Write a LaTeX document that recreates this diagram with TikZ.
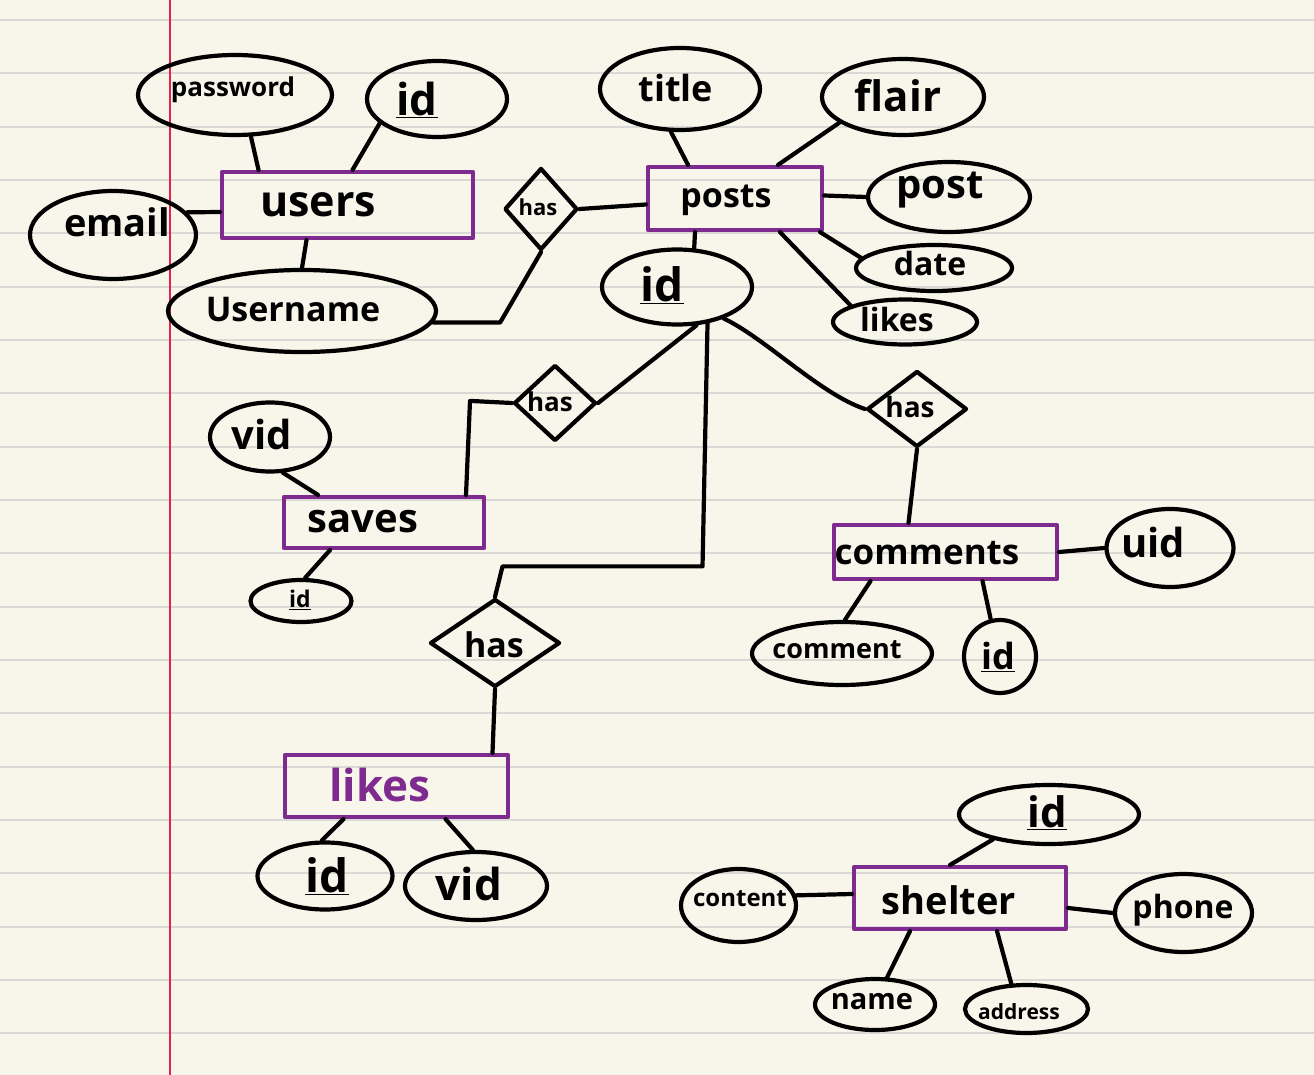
\documentclass[tikz,border=0pt]{standalone}
\usepackage{fontspec}
\setmainfont{Open Sans}
\usetikzlibrary{shapes.geometric}
\definecolor{paper}{HTML}{F8F6EA}
\definecolor{ruleline}{HTML}{D9D9D6}
\definecolor{marginred}{HTML}{E5224B}
\definecolor{ent}{HTML}{7F2A8E}
\newcommand\myfs[1]{\fontsize{#1}{#1}\selectfont\bfseries}
\begin{document}
\begin{tikzpicture}[x=1pt,y=-1pt,
  ink/.style={line width=4.2pt, line cap=round, line join=round, draw=black},
  sz/.style 2 args={minimum width=#1pt, minimum height=#2pt},
  attr/.style={ellipse, ink, inner sep=0pt},
  entity/.style={rectangle, draw=ent, line width=4.2pt, line join=round, inner sep=0pt},
  rel/.style={diamond, ink, inner sep=0pt},
  lbl/.style={inner sep=0pt, text=black},
  elbl/.style={inner sep=0pt, text=ent},
  conn/.style={ink}]
\useasboundingbox (0,0) rectangle (1314,1075);
\fill[paper] (0,0) rectangle (1314,1075);
\foreach \k in {0,...,19} \draw[ruleline, line width=2pt] (0,{20+53.33*\k}) -- (1314,{20+53.33*\k});
\draw[marginred, line width=1.6pt] (170,0) -- (170,1075);

% ---- users ----
\node[attr, sz={194}{80}] (pw) at (235,95) {};
\node[attr, sz={140}{76}] (uid1) at (437,99) {};
\node[entity, sz={251}{66}] (users) at (347.5,205) {};
\node[attr, sz={166}{88}] (email) at (113,235) {};
\node[attr, sz={268}{82}] (uname) at (302,311) {};
\node[rel, sz={73}{82}] (has1) at (541,209) {};

% ---- posts ----
\node[entity, sz={174}{63}] (posts) at (735,198.5) {};
\node[attr, sz={160}{82}] (title) at (680,89) {};
\node[attr, sz={162}{76}] (flair) at (903,97) {};
\node[attr, sz={162}{70}] (post) at (949,197) {};
\node[attr, sz={156}{46}] (date) at (934,268) {};
\node[attr, sz={144}{45}] (likesA) at (905,322) {};
\node[attr, sz={150}{75}] (pid) at (677,287) {};

% ---- saves ----
\node[rel, sz={82}{76}] (has2) at (555,403) {};
\node[attr, sz={120}{69}] (svid) at (270,437) {};
\node[entity, sz={200}{51}] (saves) at (384,522.5) {};
\node[attr, sz={101}{42}] (ssid) at (301,601) {};

% ---- likes ----
\node[rel, sz={130}{88}] (has3) at (495,643) {};
\node[entity, sz={223}{62}] (likes) at (396.5,786) {};
\node[attr, sz={135}{67}] (lid) at (325,876) {};
\node[attr, sz={142}{68}] (lvid) at (476,886) {};

% ---- comments ----
\node[rel, sz={100}{76}] (has4) at (917,409) {};
\node[entity, sz={223}{54}] (comments) at (945.5,552) {};
\node[attr, sz={127}{78}] (cuid) at (1170,548) {};
\node[attr, sz={180}{63}] (cmt) at (842,653.5) {};
\node[attr, sz={72}{73}] (cid) at (1000,656.5) {};

% ---- shelter ----
\node[attr, sz={180}{59}] (shid) at (1049,814.5) {};
\node[entity, sz={212}{62}] (shelter) at (960,898) {};
\node[attr, sz={115}{73}] (content) at (738.5,905.5) {};
\node[attr, sz={137}{78}] (phone) at (1183.5,913) {};
\node[attr, sz={120}{51}] (name) at (875,1004.5) {};
\node[attr, sz={123}{48}] (addr) at (1026.5,1009) {};

% ---- labels ----
\node[lbl, font=\myfs{26}] (pw-t) at (233,90) {password};
\node[lbl, font=\myfs{44}] (uid1-t) at (417,100) {\underline{id}};
\node[lbl, font=\myfs{43}] (users-t) at (318,205) {users};
\node[lbl, font=\myfs{38}] (email-t) at (117,222) {email};
\node[lbl, font=\myfs{34}] (uname-t) at (293,310) {Username};
\node[lbl, font=\myfs{22}] (has1-t) at (538,207) {has};
\node[lbl, font=\myfs{34}] (posts-t) at (726,200) {posts};
\node[lbl, font=\myfs{36}] (title-t) at (676,88) {title};
\node[lbl, font=\myfs{42}] (flair-t) at (898,96) {flair};
\node[lbl, font=\myfs{40}] (post-t) at (940,190) {post};
\node[lbl, font=\myfs{32}] (date-t) at (930,264) {date};
\node[lbl, font=\myfs{32}] (likesA-t) at (897,319) {likes};
\node[lbl, font=\myfs{46}] (pid-t) at (662,285) {\underline{id}};
\node[lbl, font=\myfs{26}] (has2-t) at (550,402) {has};
\node[lbl, font=\myfs{40}] (svid-t) at (262,434) {vid};
\node[lbl, font=\myfs{40}] (saves-t) at (363,522) {saves};
\node[lbl, font=\myfs{23}] (ssid-t) at (300,600) {\underline{id}};
\node[lbl, font=\myfs{34}] (has3-t) at (494,645) {has};
\node[elbl, font=\myfs{44}] (likes-t) at (380,785) {likes};
\node[lbl, font=\myfs{46}] (lid-t) at (327,876) {\underline{id}};
\node[lbl, font=\myfs{44}] (lvid-t) at (469,884) {vid};
\node[lbl, font=\myfs{28}] (has4-t) at (910,407) {has};
\node[lbl, font=\myfs{35}] (comments-t) at (927,553) {comments};
\node[lbl, font=\myfs{40}] (cuid-t) at (1153,542) {uid};
\node[lbl, font=\myfs{27}] (cmt-t) at (837,650) {comment};
\node[lbl, font=\myfs{36}] (cid-t) at (998,657) {\underline{id}};
\node[lbl, font=\myfs{38}] (shelter-t) at (949,900) {shelter};
\node[lbl, font=\myfs{42}] (shid-t) at (1047,813) {\underline{id}};
\node[lbl, font=\myfs{24}] (content-t) at (740,899) {content};
\node[lbl, font=\myfs{32}] (phone-t) at (1183,910) {phone};
\node[lbl, font=\myfs{29}] (name-t) at (872,1002) {name};
\node[lbl, font=\myfs{21}] (addr-t) at (1019,1012) {address};

% ---- connectors ----
\draw[conn] (pw.-69) -- ([xshift=-89pt]users.north);
\draw[conn] (uid1.-157) -- ([xshift=5pt]users.north);
\draw[conn] (email.17) -- ([yshift=-7pt]users.west);
\draw[conn] ([xshift=-41pt]users.south) -- (uname.north);
\draw[conn] (uname.-5) -- ++(67,0) -- (has1.south);
\draw[conn] (has1.east) -- ([yshift=-6pt]posts.west);
\draw[conn] (title.-102) -- ([xshift=-47pt]posts.north);
\draw[conn] (flair.-158) -- ([xshift=43pt]posts.north);
\draw[conn] ([yshift=3pt]posts.east) -- (post.west);
\draw[conn] ([xshift=-4pt]posts.south east) -- (date.172);
\draw[conn] ([xshift=45pt]posts.south) -- (likesA.163);
\draw[conn] ([xshift=-40pt]posts.south) -- (pid.66);
\draw[conn] (has2.east) -- (pid.-63);
\draw[conn] ([xshift=82pt]saves.north) -- ++(4,-94) -- (has2.west);
\draw[conn] (svid.-70) -- ([xshift=-66pt]saves.north);
\draw[conn] ([xshift=-54pt]saves.south) -- (ssid.80);
\draw[conn] (pid.-50) -- ++(-5,243) -- ++(-200,0) -- (has3.north);
\draw[conn] (has3.south) -- ([xshift=96pt]likes.north);
\draw[conn] ([xshift=-53pt]likes.south) -- (lid.95);
\draw[conn] ([xshift=49pt]likes.south) -- (lvid.95);
\draw[conn] (pid.-34) .. controls (765,338) and (820,394) .. (has4.west);
\draw[conn] (has4.south) -- ([xshift=-37pt]comments.north);
\draw[conn] (comments.east) -- (cuid.west);
\draw[conn] ([xshift=-75pt]comments.south) -- (cmt.85);
\draw[conn] ([xshift=37pt]comments.south) -- (cid.104);
\draw[conn] (shid.-156) -- ([xshift=-10pt]shelter.north);
\draw[conn] (content.10) -- ([yshift=4pt]shelter.west);
\draw[conn] ([yshift=-10pt]shelter.east) -- (phone.west);
\draw[conn] ([xshift=-50pt]shelter.south) -- (name.66);
\draw[conn] ([xshift=37pt]shelter.south) -- (addr.121);
\end{tikzpicture}
\end{document}
